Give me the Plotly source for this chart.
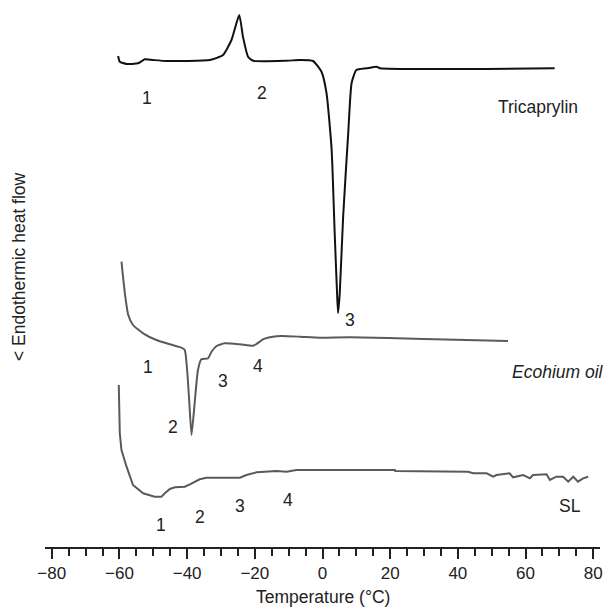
import plotly.graph_objects as go

# Temperatures (°C) and heat-flow (arbitrary units, larger = higher on chart)
tri_T = [-60.4, -59.9, -57.9, -54.5, -52.5, -50.1, -46.1, -33.3, -29.4, -26.9, -24.6, -23.5,
         -22.0, -20.5, -10.6, -6.7, -2.8, -0.3, 1.2, 2.7, 3.6, 4.3, 4.6, 5.1, 6.1, 7.6, 8.6,
         10.0, 13.0, 16.0, 17.0, 68.6]
tri_Q = [491, 485.3, 483, 483.7, 487.7, 487, 486, 487, 492, 507, 532, 510.3,
         490.3, 486.3, 486.3, 487, 486, 475.3, 453.7, 397, 314, 254, 234, 254, 330.3, 414, 464,
         477, 478.7, 480.3, 478.7, 478.7]

ech_T = [-59.4, -58.4, -57.4, -56.0, -53.0, -49.1, -45.1, -41.7, -40.7, -40.0, -39.4, -38.7,
         -37.7, -36.8, -35.8, -33.8, -32.8, -31.3, -28.9, -24.4, -20.5, -19.5, -17.6, -14.6,
         -12.1, -6.7, -0.8, 8.1, 30.0, 54.8]
ech_Q = [285.3, 253.7, 232, 222, 213.7, 207, 202.7, 199.3, 197, 177, 147, 112,
         147, 177, 187.7, 188.7, 195.3, 201, 203.7, 202.7, 201.3, 203, 207.7, 210.3,
         211, 210.3, 209.3, 209.7, 208, 206]

sl_T = [-60.2, -59.9, -59.4, -57.9, -56.0, -53.0, -49.6, -47.6, -46.6, -45.1, -43.6, -40.7,
        -39.2, -36.3, -34.3, -28.4, -24.4, -22.5, -19.5, -13.6, -10.6, -7.7, 8.1, 21.4, 21.5,
        31.7, 31.8, 43.0, 44.5, 48.5, 50.4, 51.4, 55.3, 56.3, 59.3, 61.3, 62.2, 66.2, 67.2,
        69.1, 71.1, 72.6, 74.1, 75.5, 77.0, 78.5]
sl_Q = [162, 113.7, 97, 80.3, 62, 53.7, 50.3, 50.3, 53.7, 58, 59.7, 60.3,
        62.7, 67.7, 69.3, 69.3, 69.3, 72, 74.7, 76, 75.3, 77, 77, 77, 76,
        76, 75.3, 75.3, 73.7, 73.7, 70.3, 72, 73.7, 69.7, 72, 68.7, 72, 72.7, 67,
        70.3, 70.3, 65.3, 70.3, 65.3, 68.7, 70.3]

# label texts and positions (T, Q)
labels = [
    ("1", -52.0, 448.7), ("2", -17.8, 454.3), ("3", 8.2, 227), ("Tricaprylin", 63.7, 440.3),
    ("1", -51.5, 180.3), ("2", -44.1, 120.3), ("3", -29.4, 166), ("4", -19.2, 181),
    ("1", -47.6, 22), ("2", -36.3, 30.3), ("3", -24.4, 41), ("4", -10.2, 47), ("SL", 73.1, 41),
]
italic_label = ("Ecohium oil", 69.6, 175)

tick_vals = [-80, -60, -40, -20, 0, 20, 40, 60, 80]

FONT = "Liberation Sans, Arial, sans-serif"
TXT = "#222222"
fig = go.Figure()
fig.add_trace(go.Scatter(x=tri_T, y=tri_Q, mode="lines",
                         line=dict(color="#111111", width=2, shape="spline", smoothing=0.5)))
fig.add_trace(go.Scatter(x=ech_T, y=ech_Q, mode="lines",
                         line=dict(color="#5a5a5a", width=2, shape="spline", smoothing=0.5)))
fig.add_trace(go.Scatter(x=sl_T, y=sl_Q, mode="lines",
                         line=dict(color="#5a5a5a", width=2)))

for t, x, y in labels:
    fig.add_annotation(x=x, y=y, text=t, showarrow=False,
                       font=dict(family=FONT, size=17.5, color=TXT))
fig.add_annotation(x=italic_label[1], y=italic_label[2], text="<i>" + italic_label[0] + "</i>",
                   showarrow=False, font=dict(family=FONT, size=17.5, color=TXT))

fig.add_annotation(x=0, yref="paper", y=-50 / 547, yanchor="middle", xanchor="center",
                   text="Temperature (°C)", showarrow=False,
                   font=dict(family=FONT, size=17.5, color=TXT))
fig.add_annotation(xref="paper", x=(19 - 45) / 555, y=280, xanchor="center", yanchor="middle",
                   text="< Endothermic heat flow",
                   textangle=-90, showarrow=False,
                   font=dict(family=FONT, size=17.5, color=TXT))

fig.update_layout(
    width=605, height=607,
    margin=dict(l=45, r=5, t=0, b=60),
    paper_bgcolor="white", plot_bgcolor="white",
    showlegend=False,
    font=dict(family=FONT, size=17, color=TXT),
)
fig.update_xaxes(range=[-82, 82], tickvals=tick_vals, ticks="outside", ticklen=10, tickwidth=2,
                 tickcolor=TXT, showline=True, linecolor=TXT, linewidth=2,
                 showgrid=False, zeroline=False,
                 minor=dict(dtick=5, tick0=0, ticks="outside", ticklen=7, tickwidth=2,
                            tickcolor=TXT, showgrid=False),
                 tickfont=dict(family=FONT, size=17, color=TXT))
fig.update_yaxes(range=[0, 547], visible=False)

fig.write_html("out.html", config={"displayModeBar": False},
               post_script="document.body.style.margin='0';document.body.style.overflow='hidden';")
